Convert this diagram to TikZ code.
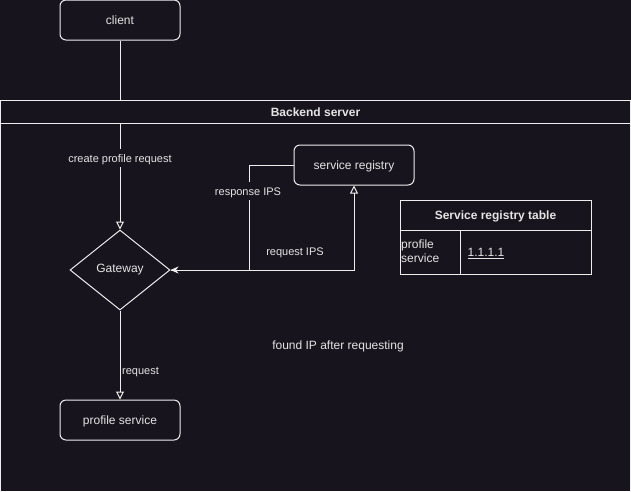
\documentclass[tikz,border=0pt]{standalone}
\usepackage{fontspec}
\setmainfont{Liberation Sans}
\usetikzlibrary{arrows.meta,shapes.geometric}
\definecolor{bg}{RGB}{24,20,29}
\definecolor{fg}{RGB}{238,238,238}
\definecolor{tx}{RGB}{228,228,228}
\begin{document}
\begin{tikzpicture}[x=1pt,y=-1pt,
  font=\fontsize{12}{14}\selectfont,
  tbase/.style={text height=12pt,text depth=3pt},
  box/.style={tbase,draw=fg,line width=1pt,rounded corners=6pt,minimum width=120pt,minimum height=40pt,inner sep=0pt,text=tx},
  gwshape/.style={draw=fg,line width=1pt,diamond,minimum width=100pt,minimum height=80pt,inner sep=0pt,text=tx},
  edge/.style={draw=fg,line width=1pt},
  opentip/.style={-{Triangle[open,length=8pt,width=8pt]}},
  filltip/.style={-{Stealth[length=8pt,width=7pt,inset=2.5pt]}},
  lbl/.style={font=\fontsize{11}{13}\selectfont,text=tx,fill=bg,inner sep=1pt,text height=12.4pt,text depth=2.8pt},
  cell/.style={draw=fg,line width=1pt,inner sep=0pt,text=tx}]
\useasboundingbox[fill=bg] (0,0) rectangle (631,491);
% nodes
\node[box] (client) at (120,20) {client};
\node[gwshape] (gw) at (120,270) {Gateway};
\node[box] (reg) at (354,165) {service registry};
\node[box] (prof) at (120,420) {profile service};
% container body
\draw[fg,line width=1pt] (0.5,100.5) rectangle (630.5,493);
% edges
\draw[edge,opentip] (client) -- (gw.north);
\draw[edge,filltip] (reg.west) -- ++(-44,0) |- (gw.east);
\draw[edge,opentip] (gw.east) -| (reg.south);
\draw[edge,opentip] (gw.south) -- (prof.north);
% container header on top
\node[tbase,draw=fg,line width=1pt,fill=bg,minimum width=630pt,minimum height=23pt,inner sep=0pt,text=tx,font=\fontsize{12}{14}\selectfont\bfseries] (hdr) at (315.5,112) {Backend server};
% labels
\node[lbl] (l1) at (120,158) {create profile request};
\node[lbl] (l2) at (248,191) {response IPS};
\node[lbl] (l3) at (295,251) {request IPS};
\node[lbl,anchor=west] (l4) at (121,370) {request};
\node[tbase,text=tx] (note) at (338,345) {found IP after requesting};
% table
\node[cell,tbase,minimum width=191pt,minimum height=30pt,font=\fontsize{12}{14}\selectfont\bfseries] (th) at (495.5,215) {Service registry table};
\node[cell,minimum width=60pt,minimum height=44pt] (c1) at (430,252) {};
\node[cell,minimum width=131pt,minimum height=44pt] (c2) at (525.5,252) {};
\node[text=tx,anchor=west,align=left,inner sep=0pt,font=\fontsize{12}{14}\selectfont] (t1) at ([yshift=1pt]c1.west) {\kern1.5pt profile\\\kern1.5pt service};
\node[tbase,text=tx,anchor=west,inner sep=0pt] (t2) at ([xshift=8pt]c2.west) {\underline{1.1.1.1}};
\end{tikzpicture}
\end{document}
